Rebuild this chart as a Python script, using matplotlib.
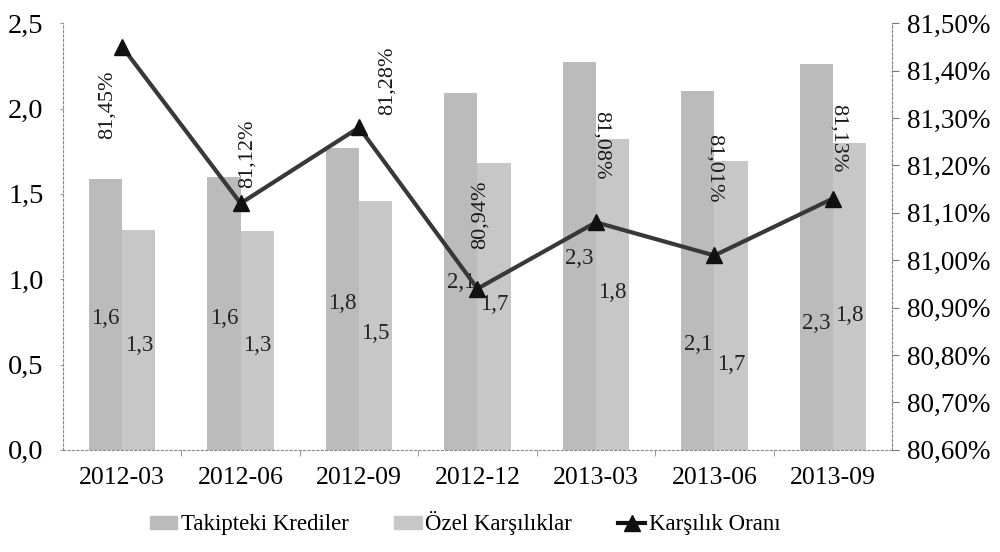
import numpy as np
import matplotlib
matplotlib.use("Agg")
import matplotlib.pyplot as plt
from matplotlib.ticker import FuncFormatter, FixedLocator
from matplotlib.patches import Patch
from matplotlib.lines import Line2D

plt.rcParams['font.family'] = ['Liberation Serif', 'DejaVu Serif']

# data
periods = ["2012-03", "2012-06", "2012-09", "2012-12", "2013-03", "2013-06", "2013-09"]
takipteki = [1.59, 1.60, 1.77, 2.09, 2.27, 2.10, 2.26]
ozel = [1.29, 1.28, 1.46, 1.68, 1.82, 1.69, 1.80]
karsilik = [81.45, 81.12, 81.28, 80.94, 81.08, 81.01, 81.13]

# where the scanned labels sit (layout, not data)
tak_lbl_y = [0.77, 0.77, 0.86, 0.98, 1.12, 0.62, 0.74]
oz_lbl_y = [0.61, 0.61, 0.68, 0.85, 0.92, 0.50, 0.79]
pct_off = [(-15, -58), (7, 50), (28, 47), (3, 74), (5, 77), (0, 87), (5, 60)]
pct_rot = [90, 90, 90, 90, -90, -90, -90]

c_tak = "#bbbbbb"
c_oz = "#c7c7c7"
c_line = "#383838"

def tr(v, nd):
    return ("{:." + str(nd) + "f}").format(v).replace(".", ",")

fig = plt.figure(figsize=(10, 5.52), dpi=100)
ax = fig.add_axes([0.063, 0.185, 0.829, 0.773])
x = np.arange(len(periods))
w = 0.28

ax.bar(x - w/2, takipteki, w, color=c_tak, zorder=2)
ax.bar(x + w/2, ozel, w, color=c_oz, zorder=2)

for i in range(len(periods)):
    ax.text(x[i] - w/2, tak_lbl_y[i], tr(takipteki[i], 1), ha="center", va="center",
            fontsize=16.5, color="#222222", zorder=3)
    ax.text(x[i] + w/2, oz_lbl_y[i], tr(ozel[i], 1), ha="center", va="center",
            fontsize=16.5, color="#222222", zorder=3)

ax.set_xlim(-0.5, len(periods) - 0.5)
ax.set_ylim(0, 2.5)
ax.set_yticks(np.arange(0, 2.51, 0.5))
ax.yaxis.set_major_formatter(FuncFormatter(lambda v, p: tr(v, 1)))
ax.set_xticks(x)
ax.set_xticklabels(periods)
ax.xaxis.set_minor_locator(FixedLocator(np.arange(0.5, len(periods) - 1, 1)))
ax.tick_params(axis="x", which="major", length=0, pad=12, labelsize=18.5)
ax.tick_params(axis="x", which="minor", length=4, color="#888888")
ax.tick_params(axis="y", length=2, color="#999999", pad=12, labelsize=20.5)

ax2 = ax.twinx()
ax2.plot(x, karsilik, color=c_line, lw=3, marker="^", ms=12,
         markerfacecolor="#111111", markeredgecolor="#111111", zorder=4)
for i in range(len(periods)):
    ax2.annotate(tr(karsilik[i], 2) + "%", (x[i], karsilik[i]), xytext=pct_off[i],
                 textcoords="offset pixels", rotation=pct_rot[i], ha="center", va="center",
                 fontsize=16, color="#1a1a1a")
ax2.set_ylim(80.60, 81.50)
ax2.set_yticks(np.arange(80.60, 81.501, 0.10))
ax2.yaxis.set_major_formatter(FuncFormatter(lambda v, p: tr(v, 2) + "%"))
ax2.tick_params(axis="y", length=5, color="#777777", pad=6, labelsize=19.5)

for a in (ax, ax2):
    a.spines["top"].set_visible(False)
    for s in ("left", "right", "bottom"):
        a.spines[s].set_linestyle((0, (2, 2)))
        a.spines[s].set_color("#8a8a8a")
        a.spines[s].set_linewidth(0.8)
ax2.spines["left"].set_visible(False)
ax2.spines["bottom"].set_visible(False)

handles = [Patch(color=c_tak), Patch(color=c_oz),
           Line2D([0], [0], color="#111111", lw=3, marker="^", ms=11)]
labels = ["Takipteki Krediler", "Özel Karşılıklar", "Karşılık Oranı"]
fig.legend(handles, labels, loc="center", bbox_to_anchor=(0.465, 0.052), ncol=3,
           frameon=False, fontsize=16.5, handlelength=1.2, handleheight=0.5,
           handletextpad=0.15, columnspacing=2.0)

fig.savefig("out.png", dpi=100)
